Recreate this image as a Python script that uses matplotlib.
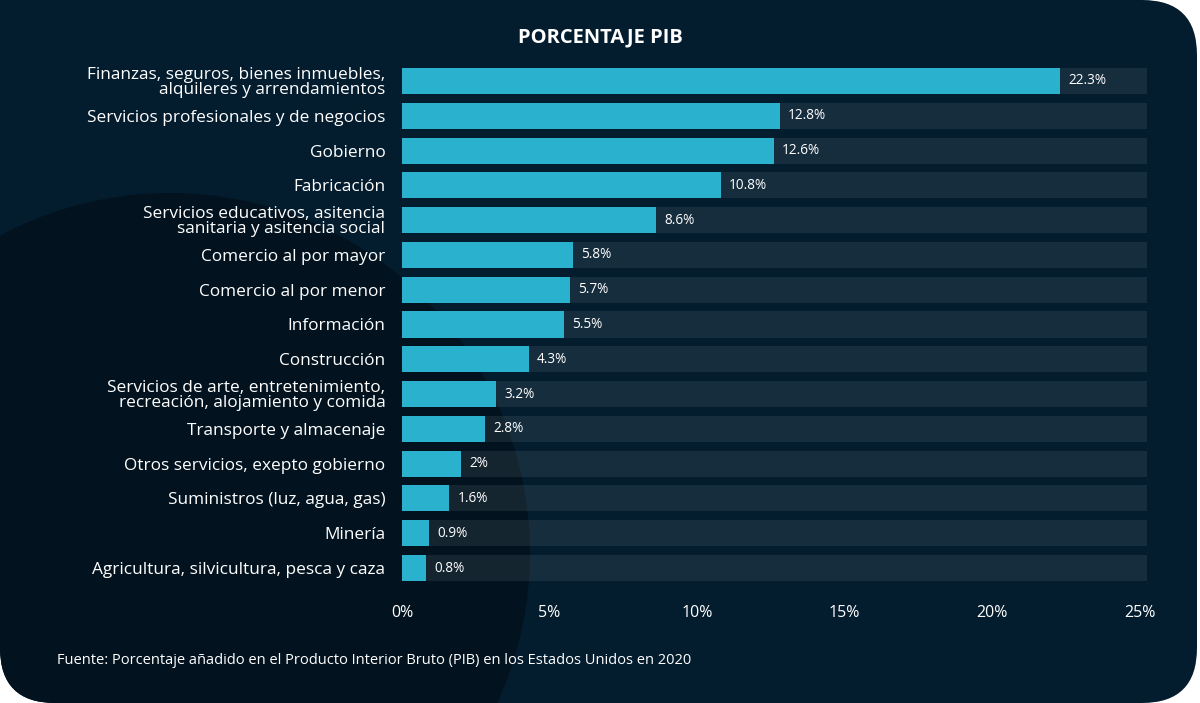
import numpy as np
import matplotlib
matplotlib.use("Agg")
from matplotlib import pyplot as plt
from matplotlib.patches import FancyBboxPatch, Rectangle, Circle

# datos
categorias = [
    "Finanzas, seguros, bienes inmuebles,\nalquileres y arrendamientos",
    "Servicios profesionales y de negocios",
    "Gobierno",
    "Fabricación",
    "Servicios educativos, asitencia\nsanitaria y asitencia social",
    "Comercio al por mayor",
    "Comercio al por menor",
    "Información",
    "Construcción",
    "Servicios de arte, entretenimiento,\nrecreación, alojamiento y comida",
    "Transporte y almacenaje",
    "Otros servicios, exepto gobierno",
    "Suministros (luz, agua, gas)",
    "Minería",
    "Agricultura, silvicultura, pesca y caza",
]
valores = [22.3, 12.8, 12.6, 10.8, 8.6, 5.8, 5.7, 5.5, 4.3, 3.2, 2.8, 2.0, 1.6, 0.9, 0.8]
etiquetas = ["22.3%", "12.8%", "12.6%", "10.8%", "8.6%", "5.8%", "5.7%", "5.5%",
             "4.3%", "3.2%", "2.8%", "2%", "1.6%", "0.9%", "0.8%"]
ticks = [0, 5, 10, 15, 20, 25]
tick_labels = ["0%", "5%", "10%", "15%", "20%", "25%"]

FONDO = "#031c2e"
CIRCULO = "#02131f"
BARRA = "#29b1cd"
W, H = 1200, 703

plt.rcParams['font.family'] = ['Open Sans', 'DejaVu Sans']

fig = plt.figure(figsize=(12, 7.03), dpi=100)
fig.patch.set_facecolor("white")

# tarjeta de fondo (esquina sup. izq. recta, resto redondeado)
card = FancyBboxPatch((0, 0), W - 3, H, boxstyle="round,pad=0,rounding_size=55",
                      transform=None, facecolor=FONDO, edgecolor="none", zorder=-3)
fig.patches.append(card)
sq = Rectangle((0, H - 120), 200, 120, transform=None, facecolor=FONDO,
               edgecolor="none", zorder=-3)
fig.patches.append(sq)
circ = Circle((170, H - 553), 360, transform=None, facecolor=CIRCULO,
              edgecolor="none", zorder=-2)
circ.set_clip_path(card)
fig.patches.append(circ)

ax = fig.add_axes([402 / W, 1 - 585.4 / H, (1147 - 402) / W, (585.4 - 63.6) / H])
ax.set_facecolor("none")
xmax = 25.25
y = np.arange(len(valores))

ax.barh(y, [xmax] * len(valores), height=0.75, color="white", alpha=0.08, zorder=1)
ax.barh(y, valores, height=0.75, color=BARRA, zorder=2)
for yi, v, t in zip(y, valores, etiquetas):
    ax.annotate(t, (v, yi), xytext=(6, 0), textcoords="offset points",
                va="center", ha="left", color="white", fontsize=9.8, zorder=3)

ax.set_xlim(0, xmax)
ax.set_ylim(len(valores) - 0.5, -0.5)
ax.set_yticks(y)
ax.set_yticklabels(categorias, fontsize=12.4, color="white", linespacing=0.9)
ax.set_xticks(ticks)
ax.set_xticklabels(tick_labels, fontsize=11.5, color="white")
ax.tick_params(axis="y", length=0, pad=12)
ax.tick_params(axis="x", length=0, pad=14)
for s in ax.spines.values():
    s.set_visible(False)

fig.text(600 / W, 1 - 37 / H, "PORCENTAJE PIB", ha="center", va="center",
         color="white", fontsize=14.5, fontweight="bold")
fig.text(57 / W, 1 - 660 / H,
         "Fuente: Porcentaje añadido en el Producto Interior Bruto (PIB) en los Estados Unidos en 2020",
         ha="left", va="center", color="white", fontsize=10.5)

fig.savefig("out.png", dpi=100, facecolor=fig.get_facecolor())
